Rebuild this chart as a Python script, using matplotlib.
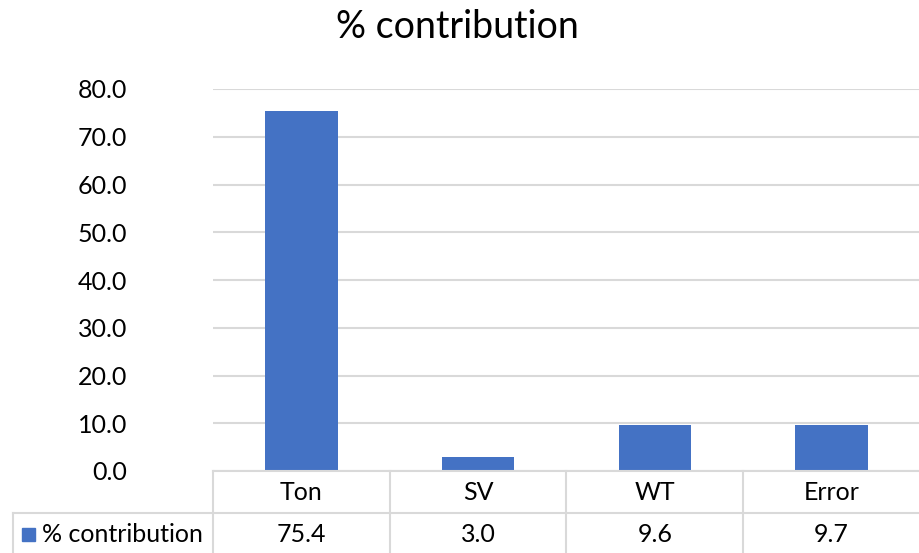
import matplotlib
matplotlib.use("Agg")
import matplotlib.pyplot as plt
from matplotlib.lines import Line2D
from matplotlib.patches import Rectangle

categories = ["Ton", "SV", "WT", "Error"]
values = [75.4, 3.0, 9.6, 9.7]
series_name = "% contribution"
yticks = [0, 10, 20, 30, 40, 50, 60, 70, 80]

bar_color = "#4472C4"
grid_color = "#D9D9D9"
font = ["Lato", "DejaVu Sans"]
plt.rcParams["font.family"] = font

W, H = 920, 553
fig = plt.figure(figsize=(W / 100, H / 100), dpi=100)

left_px, right_px, top_px, base_px = 213, 920, 89, 471
ax = fig.add_axes([left_px / W, 1 - base_px / H, (right_px - left_px) / W, (base_px - top_px) / H])

x = range(len(categories))
ax.bar(x, values, width=0.41, color=bar_color, zorder=3)
ax.set_xlim(-0.5, len(categories) - 0.5)
ax.set_ylim(0, 80)
ax.set_yticks(yticks)
ax.set_yticklabels([f"{v:.1f}" for v in yticks], fontsize=18)
ax.tick_params(axis="y", length=0, pad=62)
ax.set_xticks([])
ax.grid(axis="y", color=grid_color, linewidth=1.5, zorder=0)
for s in ax.spines.values():
    s.set_visible(False)

fig.text(457 / W, 1 - 27 / H, series_name, ha="center", va="center", fontsize=27)

# data table below the plot, drawn in figure pixel coords
def px_line(x0, y0, x1, y1):
    fig.add_artist(Line2D([x0 / W, x1 / W], [1 - y0 / H, 1 - y1 / H],
                          color=grid_color, linewidth=1.5, transform=fig.transFigure))

row_mid = 513
bottom = 553
col_w = (right_px - left_px) / len(categories)
px_line(left_px, base_px, right_px, base_px)
px_line(13, row_mid, right_px, row_mid)
px_line(13, row_mid, 13, bottom)
for i in range(len(categories)):
    px_line(left_px + i * col_w, base_px, left_px + i * col_w, bottom)

for i, (c, v) in enumerate(zip(categories, values)):
    cx = (left_px + (i + 0.5) * col_w) / W
    fig.text(cx, 1 - 493 / H, c, ha="center", va="center", fontsize=18)
    fig.text(cx, 1 - 534 / H, f"{v:.1f}", ha="center", va="center", fontsize=18)

fig.add_artist(Rectangle((22 / W, 1 - 541 / H), 13 / W, 13 / H, color=bar_color,
                         transform=fig.transFigure))
fig.text(42 / W, 1 - 534 / H, series_name, ha="left", va="center", fontsize=18)

fig.savefig("out.png", dpi=100)
